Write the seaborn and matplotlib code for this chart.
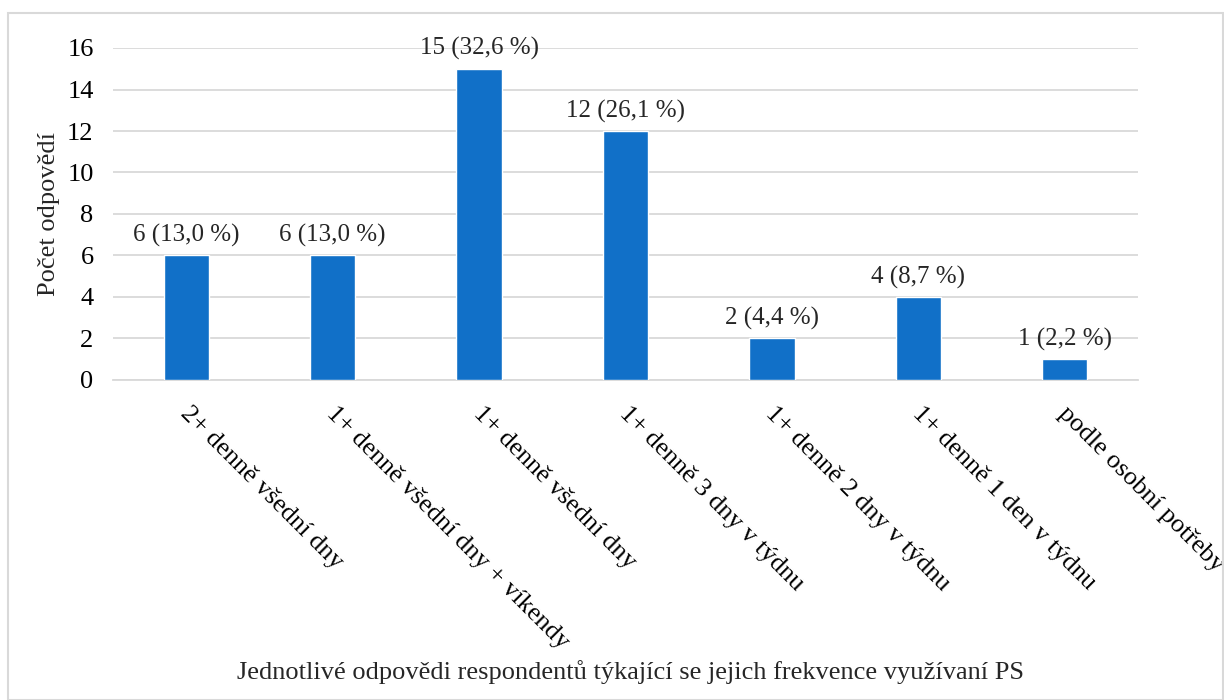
import matplotlib
matplotlib.use("Agg")
import matplotlib.pyplot as plt
import matplotlib.transforms as mtrans
import seaborn as sns
import pandas as pd
from matplotlib.patches import Rectangle

categories = ["2+ denně všední dny", "1+ denně všední dny + víkendy", "1+ denně všední dny",
              "1+ denně 3 dny v týdnu", "1+ denně 2 dny v týdnu", "1+ denně 1 den v týdnu",
              "podle osobní potřeby"]
counts = [6, 6, 15, 12, 2, 4, 1]
labels = ["6 (13,0 %)", "6 (13,0 %)", "15 (32,6 %)", "12 (26,1 %)", "2 (4,4 %)", "4 (8,7 %)", "1 (2,2 %)"]
yticks = [0, 2, 4, 6, 8, 10, 12, 14, 16]

sns.set_theme(style="white")
plt.rcParams['font.family'] = ['Liberation Serif', 'DejaVu Serif']

df = pd.DataFrame({"cat": categories, "n": counts})

fig = plt.figure(figsize=(12.24, 7), dpi=100)
ax = fig.add_axes([113/1224, 1-380/700, (1138-113)/1224, (380-48)/700])
sns.barplot(data=df, x="cat", y="n", color="#1170C8", saturation=1, width=0.31, ax=ax, zorder=3)

ax.set_ylim(0, 16)
ax.set_yticks(yticks)
ax.yaxis.grid(True, color="#D9D9D9", linewidth=1.3, zorder=0)
ax.set_axisbelow(True)
for s in ["top", "right", "left"]:
    ax.spines[s].set_visible(False)
ax.spines["bottom"].set_color("#D9D9D9")
ax.spines["bottom"].set_linewidth(1.3)
ax.tick_params(axis="both", length=0, labelsize=19, colors="black")
ax.tick_params(axis="y", pad=14)

ax.set_xticks(range(len(categories)))
ax.set_xticklabels(categories, rotation=-45, ha="left", va="top", rotation_mode="anchor", fontsize=19)
ax.tick_params(axis="x", pad=16)
offset = mtrans.ScaledTranslation(5/100, 0, fig.dpi_scale_trans)
for lab in ax.get_xticklabels():
    lab.set_transform(lab.get_transform() + offset)

for i, (v, t) in enumerate(zip(counts, labels)):
    ax.annotate(t, (i, v), xytext=(0, 6), textcoords="offset points", ha="center", va="bottom", fontsize=18)

ax.set_xlabel("")
ax.set_ylabel("Počet odpovědí", fontsize=19, labelpad=5)

fig.patches.append(Rectangle((8/1224, 0), 1 - 8/1224 - 1/1224, 1 - 13/700, transform=fig.transFigure,
                             fill=False, edgecolor="#D9D9D9", linewidth=1.5))
fig.text(631/1224, 1-672/700, "Jednotlivé odpovědi respondentů týkající se jejich frekvence využívaní PS",
         ha="center", va="center", fontsize=19)

fig.savefig("out.png", dpi=100)
